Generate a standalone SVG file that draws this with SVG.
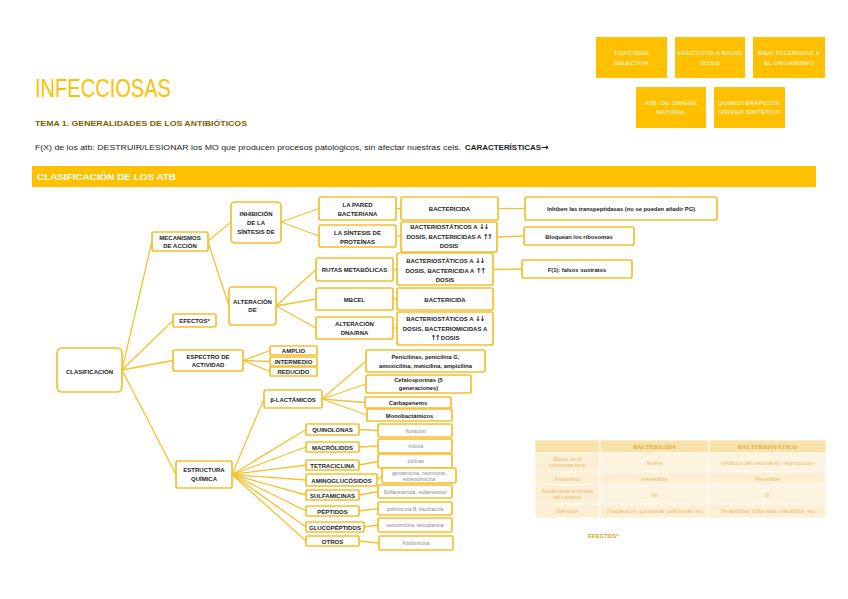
<svg xmlns="http://www.w3.org/2000/svg" width="848" height="599" viewBox="0 0 848 599">
<style>
.bx{fill:#fff;stroke:#F4C02C;stroke-width:1.7}
.tb{fill:#FFC000}
.c line{stroke:#F2C230;stroke-width:1.3}
text{font-family:"Liberation Sans",Arial,sans-serif}
.n{font-size:6px;font-weight:bold;fill:#222;text-anchor:middle}
.l{font-size:5.8px;font-weight:bold;fill:#222;text-anchor:middle}
.g{font-size:5px;fill:#8a8a8a;text-anchor:middle}
.w{font-size:6px;fill:#fff;text-anchor:middle;letter-spacing:0.3px}
.th{font-family:"Liberation Serif",serif;font-size:6px;font-weight:bold;fill:#E2A944;text-anchor:middle}
.td{font-size:5.2px;fill:#E6BA72;text-anchor:middle}
.hd{fill:#F7E2AA}
.bd{fill:#FDF4DF}
.bd2{fill:#FCEFD3}
.ar{font-family:"DejaVu Sans",sans-serif;font-size:7px;font-weight:bold;letter-spacing:-1.5px}
</style>
<rect width="848" height="599" fill="#fff"/>

<!-- header -->
<text x="35" y="97" font-size="26" fill="#FFC000" textLength="136" lengthAdjust="spacingAndGlyphs">INFECCIOSAS</text>
<text x="35" y="126" font-size="8" font-weight="bold" fill="#7F6000" textLength="212" lengthAdjust="spacingAndGlyphs">TEMA 1. GENERALIDADES DE LOS ANTIBIÓTICOS</text>
<text x="35" y="150" font-size="8" fill="#222"><tspan textLength="426" lengthAdjust="spacingAndGlyphs">F(X) de los atb: DESTRUIR/LESIONAR los MO que producen procesos patológicos, sin afectar nuestras cels.</tspan><tspan x="465" font-weight="bold" textLength="76" lengthAdjust="spacingAndGlyphs">CARACTERÍSTICAS</tspan><tspan font-family="DejaVu Sans" font-weight="bold" font-size="9">→</tspan></text>

<!-- top-right boxes -->
<g id="toxicidad"><rect class="tb" x="596" y="37" width="71" height="41"/><text class="w" x="631.5" y="55">TOXICIDAD</text><text class="w" x="631.5" y="64.5">SELECTIVA</text></g>
<g id="efectivos"><rect class="tb" x="675" y="37" width="70" height="41"/><text class="w" x="710" y="55">EFECTIVOS A BAJAS</text><text class="w" x="710" y="64.5">DOSIS</text></g>
<g id="toleradas"><rect class="tb" x="753" y="37" width="72" height="41"/><text class="w" x="789" y="55">BIEN TOLERADAS X</text><text class="w" x="789" y="64.5">EL ORGANISMO</text></g>
<g id="natural"><rect class="tb" x="636" y="87" width="70" height="41"/><text class="w" x="671" y="105">ATB: DE ORIGEN</text><text class="w" x="671" y="114">NATURAL</text></g>
<g id="quimio"><rect class="tb" x="714" y="87" width="71" height="41"/><text class="w" x="749.5" y="105">QUIMIOTERÁPICOS:</text><text class="w" x="749.5" y="114">ORIGEN SINTÉTICO</text></g>

<!-- banner -->
<rect x="32" y="166" width="784" height="21" fill="#FFC000"/>
<text x="37" y="180" font-size="8.5" font-weight="bold" fill="#fff" textLength="139" lengthAdjust="spacingAndGlyphs">CLASIFICACIÓN DE LOS ATB</text>

<!-- connectors -->
<g id="connectors" class="c">
<line x1="122" y1="370" x2="152" y2="241"/>
<line x1="122" y1="370" x2="173" y2="320.5"/>
<line x1="122" y1="370" x2="173" y2="360.5"/>
<line x1="122" y1="370" x2="176" y2="474.5"/>
<line x1="208" y1="241" x2="231" y2="222"/>
<line x1="208" y1="242" x2="229" y2="306"/>
<line x1="281" y1="222" x2="319" y2="208.5"/>
<line x1="281" y1="222" x2="319" y2="236"/>
<line x1="276" y1="306" x2="316" y2="269.5"/>
<line x1="276" y1="306" x2="316" y2="299"/>
<line x1="276" y1="306" x2="316" y2="328"/>
<line x1="396" y1="208.5" x2="401" y2="208.5"/>
<line x1="396" y1="236" x2="401" y2="236"/>
<line x1="393" y1="269.5" x2="397" y2="269.5"/>
<line x1="393" y1="299" x2="397" y2="299"/>
<line x1="393" y1="328" x2="397" y2="328"/>
<line x1="498" y1="208.5" x2="525" y2="208.5"/>
<line x1="497" y1="237" x2="524" y2="236"/>
<line x1="493" y1="269.5" x2="522" y2="269"/>
<line x1="243" y1="360.5" x2="270" y2="350.5"/>
<line x1="243" y1="360.5" x2="270" y2="361.5"/>
<line x1="243" y1="360.5" x2="270" y2="371.5"/>
<line x1="232" y1="474.5" x2="264" y2="399"/>
<line x1="232" y1="474.5" x2="306" y2="429.5"/>
<line x1="232" y1="474.5" x2="306" y2="447"/>
<line x1="232" y1="474.5" x2="306" y2="465"/>
<line x1="232" y1="474.5" x2="306" y2="480"/>
<line x1="232" y1="474.5" x2="306" y2="495"/>
<line x1="232" y1="474.5" x2="306" y2="511"/>
<line x1="232" y1="474.5" x2="306" y2="527"/>
<line x1="232" y1="474.5" x2="306" y2="541"/>
<line x1="322" y1="399" x2="366" y2="361"/>
<line x1="322" y1="399" x2="366" y2="384"/>
<line x1="322" y1="399" x2="365" y2="402.5"/>
<line x1="322" y1="399" x2="367" y2="415"/>
<line x1="359" y1="429.5" x2="378" y2="430.5"/>
<line x1="359" y1="447" x2="378" y2="446"/>
<line x1="359" y1="465" x2="378" y2="461.5"/>
<line x1="377" y1="480" x2="382" y2="476"/>
<line x1="359" y1="495" x2="378" y2="491.5"/>
<line x1="359" y1="511" x2="378" y2="508.5"/>
<line x1="364" y1="527" x2="378" y2="525"/>
<line x1="359" y1="541" x2="379" y2="543"/>
</g>

<!-- nodes -->
<g id="clasificacion"><rect class="bx" x="57" y="348" width="65" height="44" rx="5"/><text class="n" x="89.5" y="374">CLASIFICACIÓN</text></g>
<g id="mecanismos"><rect class="bx" x="152" y="232" width="56" height="19" rx="2"/><text class="n" x="180" y="239.5">MECANISMOS</text><text class="n" x="180" y="247.5">DE ACCIÓN</text></g>
<g id="inhibicion"><rect class="bx" x="231" y="202" width="50" height="41" rx="4"/><text class="n" x="256" y="216">INHIBICIÓN</text><text class="n" x="256" y="225">DE LA</text><text class="n" x="256" y="234">SÍNTESIS DE</text></g>
<g id="alteracion"><rect class="bx" x="229" y="287" width="47" height="38" rx="3"/><text class="n" x="252.5" y="304">ALTERACIÓN</text><text class="n" x="252.5" y="312">DE</text></g>
<g id="efectos"><rect class="bx" x="173" y="314" width="43" height="13" rx="1.5"/><text class="n" x="194.5" y="323">EFECTOS*</text></g>
<g id="espectro"><rect class="bx" x="173" y="350" width="70" height="21" rx="2"/><text class="n" x="208" y="358.5">ESPECTRO DE</text><text class="n" x="208" y="366.5">ACTIVIDAD</text></g>
<g id="amplio"><rect class="bx" x="270" y="346" width="47" height="9" rx="1"/><text class="n" x="293.5" y="353">AMPLIO</text></g>
<g id="intermedio"><rect class="bx" x="270" y="357" width="47" height="9" rx="1"/><text class="n" x="293.5" y="364">INTERMEDIO</text></g>
<g id="reducido"><rect class="bx" x="270" y="367" width="47" height="9" rx="1"/><text class="n" x="293.5" y="374">REDUCIDO</text></g>
<g id="estructura"><rect class="bx" x="176" y="461" width="56" height="27" rx="2"/><text class="n" x="204" y="472">ESTRUCTURA</text><text class="n" x="204" y="481">QUÍMICA</text></g>
<g id="blactamicos"><rect class="bx" x="264" y="390" width="58" height="18" rx="2"/><text class="n" x="293" y="401.5">β-LACTÁMICOS</text></g>

<g id="pared"><rect class="bx" x="319" y="197" width="77" height="23" rx="2"/><text class="n" x="357.5" y="207">LA PARED</text><text class="n" x="357.5" y="216">BACTERIANA</text></g>
<g id="proteinas"><rect class="bx" x="319" y="225" width="77" height="22" rx="2"/><text class="n" x="357.5" y="235">LA SÍNTESIS DE</text><text class="n" x="357.5" y="243.5">PROTEÍNAS</text></g>
<g id="rutas"><rect class="bx" x="316" y="258" width="77" height="23" rx="2"/><text class="n" x="354.5" y="272">RUTAS METABÓLICAS</text></g>
<g id="mbcel"><rect class="bx" x="316" y="288" width="77" height="22" rx="2"/><text class="n" x="354.5" y="302">MBCEL</text></g>
<g id="dnarna"><rect class="bx" x="316" y="317" width="77" height="22" rx="2"/><text class="n" x="354.5" y="325.5">ALTERACIÓN</text><text class="n" x="354.5" y="335">DNA/RNA</text></g>

<g id="bactericida1"><rect class="bx" x="401" y="197" width="97" height="23" rx="2"/><text class="n" x="449.5" y="211">BACTERICIDA</text></g>
<g id="bacteriostatico1"><rect class="bx" x="401" y="222" width="96" height="30" rx="2"/><text class="n" x="449" y="229">BACTERIOSTÁTICOS A <tspan class="ar">↓↓</tspan></text><text class="n" x="449" y="238.5">DOSIS, BACTERIICIDAS A <tspan class="ar">↑↑</tspan></text><text class="n" x="449" y="247.5">DOSIS</text></g>
<g id="bacteriostatico2"><rect class="bx" x="397" y="253" width="96" height="32" rx="2"/><text class="n" x="445" y="263">BACTERIOSTÁTICOS A <tspan class="ar">↓↓</tspan></text><text class="n" x="445" y="272.5">DOSIS, BACTERICIDA A <tspan class="ar">↑↑</tspan></text><text class="n" x="445" y="281.5">DOSIS</text></g>
<g id="bactericida2"><rect class="bx" x="397" y="288" width="96" height="22" rx="2"/><text class="n" x="445" y="302">BACTERICIDA</text></g>
<g id="bacteriostatico3"><rect class="bx" x="397" y="312" width="96" height="33" rx="2"/><text class="n" x="445" y="320.5">BACTERIOSTÁTICOS A <tspan class="ar">↓↓</tspan></text><text class="n" x="445" y="330.5">DOSIS, BACTERIOMICIDAS A</text><text class="n" x="445" y="340"><tspan class="ar">↑↑</tspan> DOSIS</text></g>

<g id="inhiben"><rect class="bx" x="525" y="197" width="192" height="23" rx="2"/><text class="l" x="621" y="211">Inhiben las transpeptidasas (no se pueden añadir PG)</text></g>
<g id="bloquean"><rect class="bx" x="524" y="227" width="110" height="18" rx="2"/><text class="l" x="579" y="238.5">Bloquean los ribosomas</text></g>
<g id="falsos"><rect class="bx" x="522" y="260" width="110" height="18" rx="2"/><text class="l" x="577" y="271.5">F(1): falsos sustratos</text></g>

<g id="penicilinas"><rect class="bx" x="366" y="350" width="119" height="22" rx="2"/><text class="l" x="425.5" y="358.5">Penicilinas, penicilina G,</text><text class="l" x="425.5" y="367.5">amoxicilina, meticilina, ampicilina</text></g>
<g id="cefalosporinas"><rect class="bx" x="366" y="375" width="105" height="18" rx="2"/><text class="l" x="418.5" y="382">Cefalosporinas (5</text><text class="l" x="418.5" y="390">generaciones)</text></g>
<g id="carbapenems"><rect class="bx" x="365" y="397" width="86" height="11" rx="1"/><text class="l" x="408" y="405">Carbapenems</text></g>
<g id="monobactamicos"><rect class="bx" x="367" y="409" width="85" height="12" rx="1"/><text class="l" x="409.5" y="417.5">Monobactámicos</text></g>

<g id="quinolonas"><rect class="bx" x="306" y="424" width="53" height="11" rx="1"/><text class="n" x="332.5" y="432">QUINOLONAS</text></g>
<g id="macrolidos"><rect class="bx" x="306" y="442" width="53" height="10" rx="1"/><text class="n" x="332.5" y="449.5">MACRÓLIDOS</text></g>
<g id="tetraciclina"><rect class="bx" x="306" y="460" width="53" height="10" rx="1"/><text class="n" x="332.5" y="467.5">TETRACICLINA</text></g>
<g id="aminoglucosidos"><rect class="bx" x="306" y="474" width="71" height="12" rx="1"/><text class="n" x="341.5" y="482.5">AMINOGLUCÓSIDOS</text></g>
<g id="sulfamicinas"><rect class="bx" x="306" y="490" width="53" height="10" rx="1"/><text class="n" x="332.5" y="497.5">SULFAMICINAS</text></g>
<g id="peptidos"><rect class="bx" x="306" y="506" width="53" height="10" rx="1"/><text class="n" x="332.5" y="513.5">PÉPTIDOS</text></g>
<g id="glucopeptidos"><rect class="bx" x="306" y="522" width="58" height="10" rx="1"/><text class="n" x="335" y="529.5">GLUCOPÉPTIDOS</text></g>
<g id="otros"><rect class="bx" x="306" y="536" width="53" height="10" rx="1"/><text class="n" x="332.5" y="543.5">OTROS</text></g>

<g id="floxacino"><rect class="bx" x="378" y="424" width="74" height="13" rx="1.5"/><text class="g" x="415" y="432.5">-floxacino</text></g>
<g id="micina"><rect class="bx" x="378" y="439" width="74" height="14" rx="1.5"/><text class="g" x="415" y="447.5">-micina</text></g>
<g id="ciclinas"><rect class="bx" x="378" y="454" width="74" height="14" rx="1.5"/><text class="g" x="415" y="462.5">-ciclinas</text></g>
<g id="gentamicina"><rect class="bx" x="382" y="468" width="74" height="15" rx="1.5"/><text class="g" x="419" y="474.5">gentamicina, neomicina,</text><text class="g" x="419" y="480.5">estreptomicina</text></g>
<g id="sulfacetamida"><rect class="bx" x="378" y="485" width="74" height="13" rx="1.5"/><text class="g" x="415" y="493.5">Sulfacetamida, sulfametoxol</text></g>
<g id="polimixcina"><rect class="bx" x="378" y="502" width="74" height="13" rx="1.5"/><text class="g" x="415" y="510.5">polimixcina B, bacitracina</text></g>
<g id="vancomicina"><rect class="bx" x="378" y="518" width="74" height="14" rx="1.5"/><text class="g" x="415" y="526.5">vancomicina, teicoplanina</text></g>
<g id="fosfomicina"><rect class="bx" x="379" y="536" width="74" height="14" rx="1.5"/><text class="g" x="416" y="544.5">Fosfomicina</text></g>

<!-- table -->
<g id="tabla" stroke="#fff" stroke-width="0.8">
<rect class="hd" x="535" y="440" width="65" height="13"/>
<rect class="hd" x="600" y="440" width="109" height="13"/>
<rect class="hd" x="709" y="440" width="117" height="13"/>
<rect class="bd2" x="535" y="453" width="65" height="19"/>
<rect class="bd" x="600" y="453" width="109" height="19"/>
<rect class="bd" x="709" y="453" width="117" height="19"/>
<rect class="bd2" x="535" y="472" width="65" height="13"/>
<rect class="bd2" x="600" y="472" width="109" height="13"/>
<rect class="bd2" x="709" y="472" width="117" height="13"/>
<rect class="bd2" x="535" y="485" width="65" height="19"/>
<rect class="bd" x="600" y="485" width="109" height="19"/>
<rect class="bd" x="709" y="485" width="117" height="19"/>
<rect class="bd2" x="535" y="504" width="65" height="14"/>
<rect class="bd2" x="600" y="504" width="109" height="14"/>
<rect class="bd2" x="709" y="504" width="117" height="14"/>
</g>
<text class="th" x="654.5" y="449">BACTERICIDA</text>
<text class="th" x="767.5" y="449">BACTERIOSTÁTICO</text>
<text class="td" x="567.5" y="461">Efecto en el</text>
<text class="td" x="567.5" y="467">microorganismo</text>
<text class="td" x="654.5" y="464.5">Muerte</text>
<text class="td" x="767.5" y="464.5">Inhibición del crecimiento / reproducción</text>
<text class="td" x="567.5" y="480.5">Fenómeno</text>
<text class="td" x="654.5" y="480.5">Irreversible</text>
<text class="td" x="767.5" y="480.5">Reversible</text>
<text class="td" x="567.5" y="493">Ayuda sistema inmune</text>
<text class="td" x="567.5" y="499">del paciente</text>
<text class="td" x="654.5" y="496.5">No</text>
<text class="td" x="767.5" y="496.5">Sí</text>
<text class="td" x="567.5" y="513">Ejemplos</text>
<text class="td" x="654.5" y="513">β-lactámicos, quinolonas, polimixinas, etc</text>
<text class="td" x="767.5" y="513">Tetraciclinas, sulfamidas, macrólidos, etc</text>

<text x="588" y="538" font-size="6" font-weight="bold" fill="#D9A31C">EFECTOS*</text>
</svg>
